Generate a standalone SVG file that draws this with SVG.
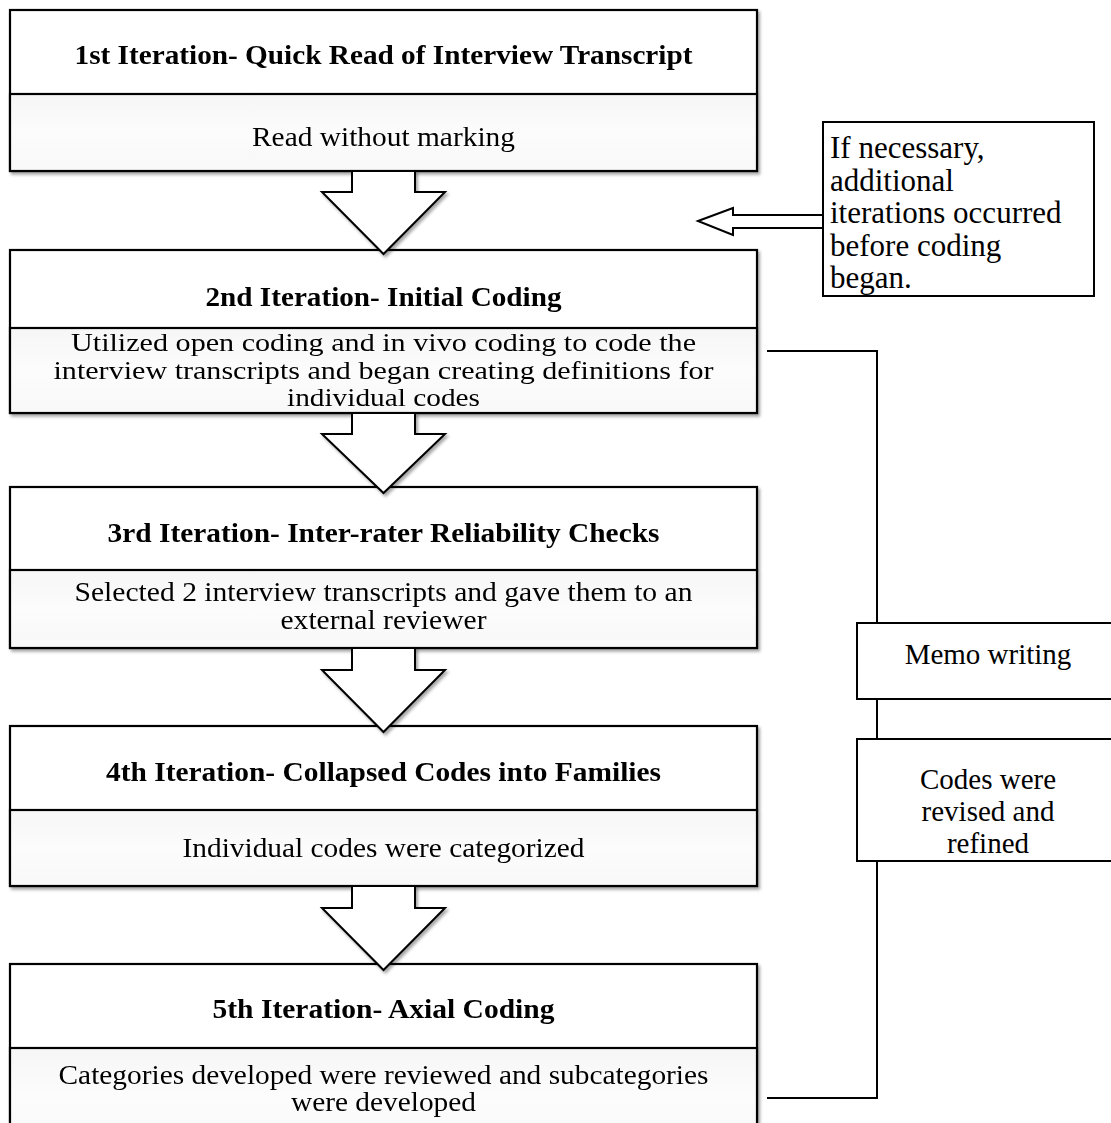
<svg xmlns="http://www.w3.org/2000/svg" width="1111" height="1123" viewBox="0 0 1111 1123">
<defs>
<filter id="sh" x="-5%" y="-5%" width="110%" height="115%">
<feDropShadow dx="2" dy="2.5" stdDeviation="1.5" flood-color="#000" flood-opacity="0.35"/>
</filter>
<linearGradient id="lg" x1="0" y1="0" x2="0" y2="1">
<stop offset="0" stop-color="#f6f6f6"/>
<stop offset="0.5" stop-color="#fcfcfc"/>
<stop offset="1" stop-color="#f8f8f8"/>
</linearGradient>
</defs>
<style>
.box{fill:#fff;stroke:#000;stroke-width:2.2}
.low{fill:url(#lg);stroke:#000;stroke-width:2.2}
.side{fill:#fff;stroke:#000;stroke-width:2}
.t{font-family:"Liberation Serif","Times New Roman",serif;font-weight:bold;font-size:28px;text-anchor:middle;fill:#000}
.d{font-family:"Liberation Serif","Times New Roman",serif;font-size:27px;text-anchor:middle;fill:#000}
.d2{font-size:26px}
.s{font-family:"Liberation Serif","Times New Roman",serif;font-size:29px;fill:#000}
.n{font-size:31px}
.arr{fill:#fff;stroke:#000;stroke-width:2;stroke-linejoin:miter}
.ln{fill:none;stroke:#000;stroke-width:2}
</style>
<rect width="1111" height="1123" fill="#fff"/>

<g id="connectors">
<polyline class="ln" points="767,351 877,351 877,1098 767,1098"/>
</g>

<g id="node1" filter="url(#sh)">
<rect class="box" x="10" y="10" width="747" height="161"/>
<rect class="low" x="10" y="94" width="747" height="77"/>
<text class="t" x="383.5" y="64" textLength="618" lengthAdjust="spacingAndGlyphs">1st Iteration- Quick Read of Interview Transcript</text>
<text class="d" x="383.5" y="146" textLength="263" lengthAdjust="spacingAndGlyphs">Read without marking</text>
</g>

<g id="node2" filter="url(#sh)">
<rect class="box" x="10" y="250" width="747" height="163"/>
<rect class="low" x="10" y="328" width="747" height="85"/>
<text class="t" x="383.5" y="306" textLength="356" lengthAdjust="spacingAndGlyphs">2nd Iteration- Initial Coding</text>
<text class="d d2" x="383.5" y="351" textLength="625" lengthAdjust="spacingAndGlyphs">Utilized open coding and in vivo coding to code the</text>
<text class="d d2" x="383.5" y="379" textLength="660" lengthAdjust="spacingAndGlyphs">interview transcripts and began creating definitions for</text>
<text class="d d2" x="383.5" y="406" textLength="193" lengthAdjust="spacingAndGlyphs">individual codes</text>
</g>

<g id="node3" filter="url(#sh)">
<rect class="box" x="10" y="487" width="747" height="161"/>
<rect class="low" x="10" y="570" width="747" height="78"/>
<text class="t" x="383.5" y="542" textLength="552" lengthAdjust="spacingAndGlyphs">3rd Iteration- Inter-rater Reliability Checks</text>
<text class="d" x="383.5" y="601" textLength="618" lengthAdjust="spacingAndGlyphs">Selected 2 interview transcripts and gave them to an</text>
<text class="d" x="383.5" y="629" textLength="206" lengthAdjust="spacingAndGlyphs">external reviewer</text>
</g>

<g id="node4" filter="url(#sh)">
<rect class="box" x="10" y="726" width="747" height="160"/>
<rect class="low" x="10" y="810" width="747" height="76"/>
<text class="t" x="383.5" y="781" textLength="555" lengthAdjust="spacingAndGlyphs">4th Iteration- Collapsed Codes into Families</text>
<text class="d" x="383.5" y="857" textLength="402" lengthAdjust="spacingAndGlyphs">Individual codes were categorized</text>
</g>

<g id="node5" filter="url(#sh)">
<rect class="box" x="10" y="964" width="747" height="180"/>
<rect class="low" x="10" y="1048" width="747" height="96"/>
<text class="t" x="383.5" y="1018" textLength="342" lengthAdjust="spacingAndGlyphs">5th Iteration- Axial Coding</text>
<text class="d" x="383.5" y="1084" textLength="650" lengthAdjust="spacingAndGlyphs">Categories developed were reviewed and subcategories</text>
<text class="d" x="383.5" y="1111" textLength="185" lengthAdjust="spacingAndGlyphs">were developed</text>
</g>

<g id="arrows">
<polygon class="arr" filter="url(#sh)" points="352,171 415,171 415,192 445,192 383.5,254 322,192 352,192"/>
<polygon class="arr" filter="url(#sh)" points="352,413 415,413 415,434 445,434 383.5,493 322,434 352,434"/>
<polygon class="arr" filter="url(#sh)" points="352,648 415,648 415,670 445,670 383.5,732 322,670 352,670"/>
<polygon class="arr" filter="url(#sh)" points="352,886 415,886 415,908 445,908 383.5,970 322,908 352,908"/>
<polygon class="arr" points="698,221 733,208 733,215 823,215 823,228 733,228 733,235"/>
</g>

<g id="note">
<rect class="side" x="823" y="122" width="271" height="174"/>
<text class="s n" x="830" y="158">If necessary,</text>
<text class="s n" x="830" y="190.5">additional</text>
<text class="s n" x="830" y="223">iterations occurred</text>
<text class="s n" x="830" y="255.5">before coding</text>
<text class="s n" x="830" y="288">began.</text>
</g>

<g id="memo">
<rect class="side" x="857" y="623" width="260" height="76"/>
<text class="s" x="988" y="664" text-anchor="middle">Memo writing</text>
</g>

<g id="codes">
<rect class="side" x="857" y="739" width="260" height="122"/>
<text class="s" x="988" y="789" text-anchor="middle">Codes were</text>
<text class="s" x="988" y="821" text-anchor="middle">revised and</text>
<text class="s" x="988" y="853" text-anchor="middle">refined</text>
</g>
</svg>
